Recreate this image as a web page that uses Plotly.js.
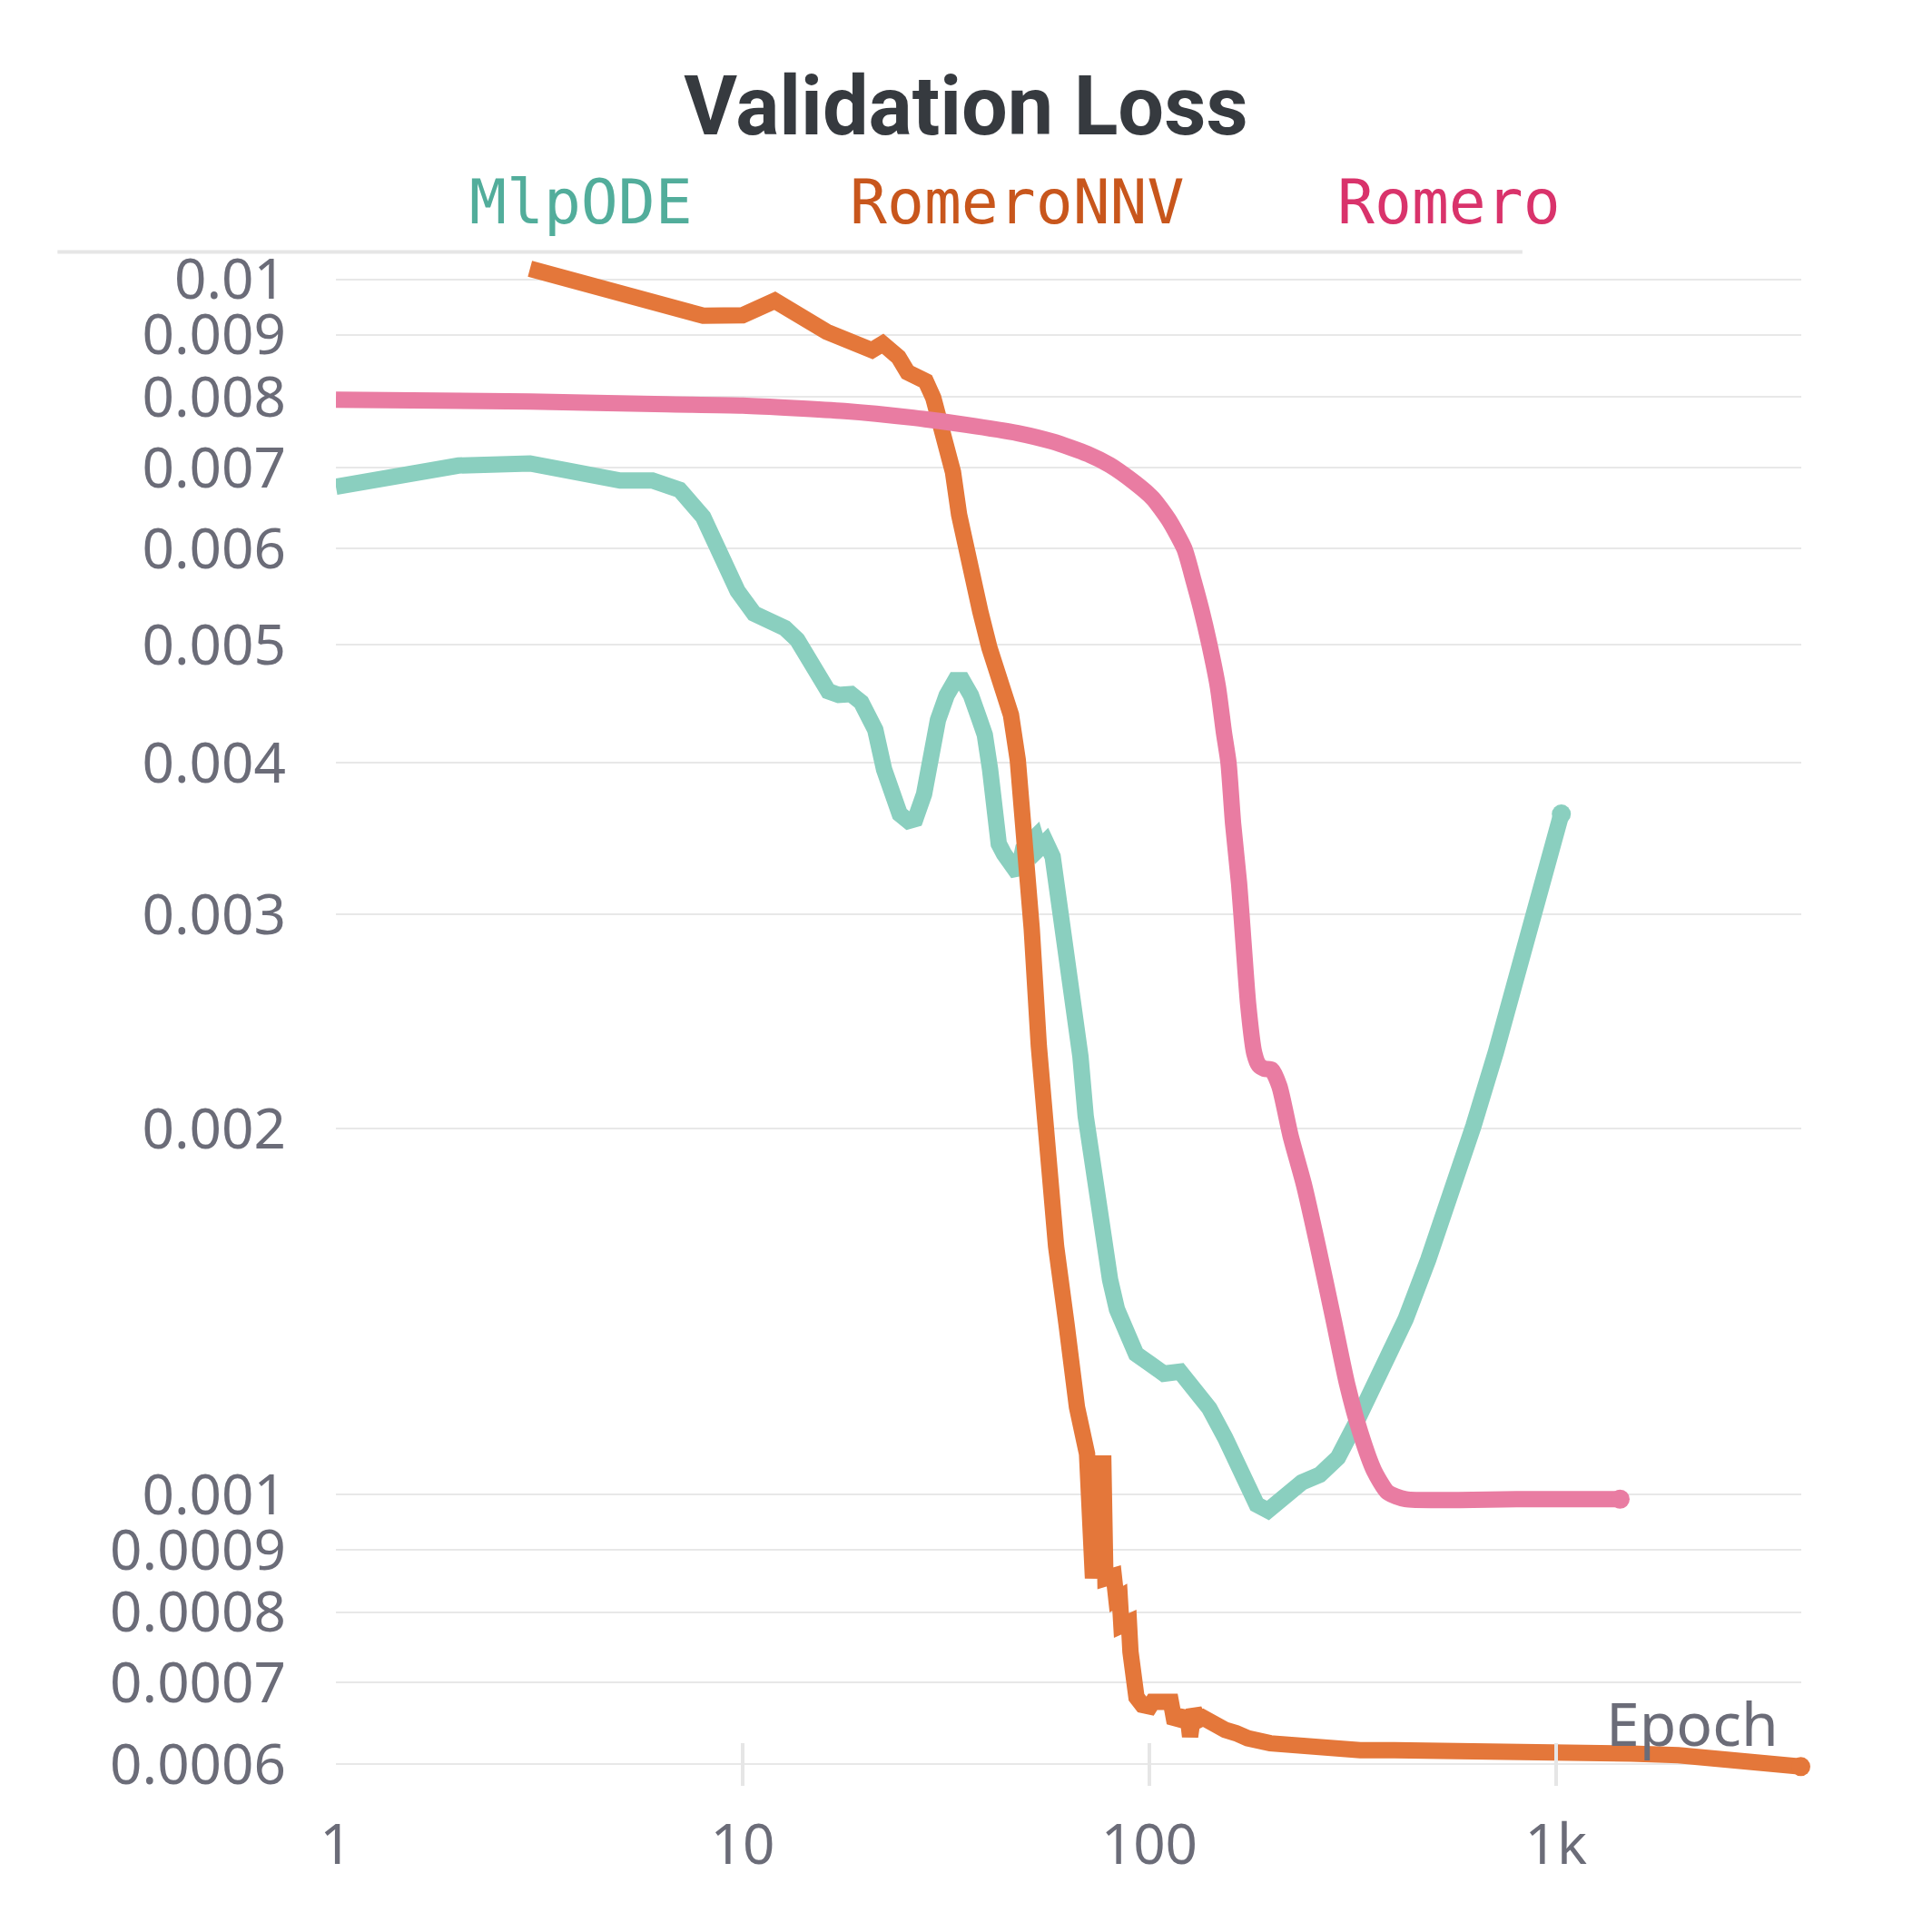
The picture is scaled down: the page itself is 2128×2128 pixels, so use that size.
<!DOCTYPE html>
<html>
<head>
<meta charset="utf-8">
<script src="https://cdn.plot.ly/plotly-3.0.1.min.js"></script>
<style>html,body{margin:0;padding:0;background:#fff;}</style>
</head>
<body>
<div id="chart" style="width:2128px;height:2128px;"></div>
<script>
// ---- data ----
const mlpEpoch = [1, 2, 3, 4, 5, 6, 7, 8, 9.72, 10.67, 11.85, 12.71, 13.63, 15.14, 16.24, 17.22, 18.47, 19.58, 20.5, 21.2, 22.28, 23.4, 24.34, 25.56, 26.59, 27.94, 29.06, 30.22, 31.76, 33.35, 34.7, 36.43, 38.28, 39.41, 40.6, 41.82, 42.65, 43.93, 46.14, 47.53, 48.96, 50.9, 52.45, 53.5, 55.64, 57.87, 59.6, 62.0, 63.86, 65.8, 67.73, 69.76, 71.86, 74.7, 76.98, 80.1, 83.27, 87.5, 92.8, 100.4, 108.6, 119, 128.5, 140.5, 153.7, 170.2, 183.7, 195.8, 214.1, 237.2, 262.7, 291, 322.3, 366.3, 426.9, 485.2, 551.3, 626.6, 711.9, 809, 896.2, 967.4, 1031];
const mlpLoss = [0.006747, 0.007025, 0.007053, 0.006926, 0.006828, 0.006828, 0.00671, 0.006372, 0.005538, 0.005307, 0.005211, 0.005162, 0.005049, 0.004739, 0.004581, 0.004549, 0.004556, 0.004485, 0.00431, 0.004257, 0.00395, 0.003734, 0.00363, 0.003582, 0.003595, 0.003769, 0.004062, 0.004338, 0.004546, 0.004676, 0.004676, 0.004546, 0.004338, 0.004217, 0.00395, 0.003595, 0.00343, 0.003366, 0.003303, 0.003243, 0.003398, 0.003462, 0.003475, 0.003398, 0.003443, 0.003348, 0.003125, 0.002924, 0.002663, 0.00247, 0.002292, 0.002048, 0.0019, 0.001714, 0.001604, 0.001502, 0.00142, 0.001355, 0.001305, 0.001281, 0.001257, 0.001262, 0.001222, 0.001177, 0.001113, 0.001032, 0.000981, 0.00097, 0.000994, 0.001023, 0.001038, 0.001072, 0.001145, 0.001246, 0.001394, 0.00156, 0.001762, 0.002009, 0.002313, 0.002714, 0.003095, 0.003398, 0.00363];

const nnvEpoch = [3, 7, 8, 10, 12, 16.1, 20.8, 22.1, 24.17, 25.45, 28.21, 29.44, 30.47, 31.8, 32.91, 34.07, 35.86, 38.41, 40.45, 42.2, 43.9, 45.7, 47.5, 49.4, 51.4, 53.5, 55.6, 59, 62.6, 66.4, 70.3, 71.5, 72.7, 75.9, 77.1, 78, 81.8, 83, 84.6, 85.4, 89.1, 89.9, 91.4, 93, 96.2, 100.3, 102, 113, 114.9, 120.9, 124, 126, 128.7, 132, 135.6, 140.7, 146.1, 153.7, 163.5, 174.6, 198.4, 225, 256, 290, 330, 400, 551, 1000, 1532, 2000, 2555, 3299, 3700, 4000];
const nnvLoss = [0.0102, 0.00946, 0.00933, 0.00934, 0.0096, 0.00905, 0.00874, 0.00885, 0.008627, 0.008383, 0.008241, 0.007986, 0.007646, 0.007262, 0.006939, 0.0064, 0.00584, 0.005329, 0.004974, 0.004751, 0.00455, 0.00438, 0.00402, 0.00353, 0.00292, 0.00234, 0.00194, 0.0016, 0.00138, 0.00118, 0.00108, 0.000976, 0.000853, 0.00106, 0.00106, 0.000853, 0.000857, 0.00082, 0.000823, 0.00078, 0.000785, 0.000742, 0.000712, 0.000681, 0.000671, 0.000669, 0.000675, 0.000675, 0.000655, 0.000652, 0.000662, 0.000632, 0.000665, 0.000652, 0.000655, 0.00065, 0.000645, 0.00064, 0.000636, 0.00063, 0.000624, 0.000621, 0.000618, 0.000617, 0.000616, 0.000616, 0.000616, 0.000614, 0.000612, 0.00061, 0.000607, 0.000603, 0.0006, 0.000597];

const romEpoch = [1, 3, 6.5, 10, 17.8, 26.3, 35.4, 47.5, 57.9, 70.5, 80, 92.1, 102.1, 111.6, 122, 128.6, 134, 140.1, 147.5, 152.6, 156.6, 160.7, 166.3, 170.6, 175.1, 181.2, 186, 192, 200, 209, 222.6, 240.3, 259.4, 283.7, 306.3, 330.7, 357, 385.5, 426.9, 800, 1438];
const romLoss = [0.00796, 0.00793, 0.00789, 0.00787, 0.00779, 0.00769, 0.00759, 0.00747, 0.00735, 0.00718, 0.00703, 0.0068, 0.0066, 0.00634, 0.006, 0.005643, 0.00536, 0.00503, 0.004617, 0.004236, 0.004001, 0.003567, 0.003181, 0.002836, 0.002528, 0.002307, 0.002255, 0.00224, 0.002236, 0.002166, 0.001972, 0.001796, 0.001604, 0.001394, 0.001234, 0.001123, 0.001046, 0.001004, 0.000991, 0.000991, 0.000991];

const seriesNames = ["MlpODE", "RomeroNNV", "Romero"];
const lineColors = ["#8acfbf", "#e4773a", "#e97ca2"];
const textColors = ["#52ad9b", "#c8561c", "#d9336b"];
const lineShapes = ["linear", "linear", "spline"];

const xTickVals = [1, 10, 100, 1000];
const xTickText = ["1", "10", "100", "1k"];
const yTickVals = [0.0006, 0.0007, 0.0008, 0.0009, 0.001, 0.002, 0.003, 0.004, 0.005, 0.006, 0.007, 0.008, 0.009, 0.01];
const yTickText = ["0.0006", "0.0007", "0.0008", "0.0009", "0.001", "0.002", "0.003", "0.004", "0.005", "0.006", "0.007", "0.008", "0.009", "0.01"];

// ---- build traces ----
const xs = [mlpEpoch, nnvEpoch, romEpoch];
const ys = [mlpLoss, nnvLoss, romLoss];
const traces = [];
[0, 1, 2].forEach(i => {
  traces.push({
    type: "scatter", mode: "lines", name: seriesNames[i],
    x: xs[i], y: ys[i],
    line: {color: lineColors[i], width: 18, shape: lineShapes[i], smoothing: 0.6},
    hoverinfo: "skip", showlegend: false
  });
  traces.push({
    type: "scatter", mode: "markers",
    x: [xs[i][xs[i].length - 1]], y: [ys[i][ys[i].length - 1]],
    marker: {color: lineColors[i], size: 21},
    hoverinfo: "skip", showlegend: false, cliponaxis: false
  });
});

const tickFont = {family: "Noto Sans", size: 62, color: "#6b6c78"};
const legendX = [0.1673, 0.4645, 0.7595];
const annotations = seriesNames.map((n, i) => ({
  text: n, xref: "paper", yref: "paper", x: legendX[i], y: 1.0356,
  xanchor: "center", yanchor: "middle", showarrow: false,
  font: {family: "DejaVu Sans Mono", size: 68, color: textColors[i]}
}));
annotations.push({
  text: "Epoch", xref: "paper", yref: "paper", x: 0.9857, y: 0.0418,
  xanchor: "right", yanchor: "middle", showarrow: false,
  font: {family: "Noto Sans", size: 66, color: "#6b6c78"}
});

const layout = {
  width: 2128, height: 2128,
  margin: {l: 370, r: 144, t: 282, b: 161, pad: 0},
  paper_bgcolor: "#ffffff", plot_bgcolor: "#ffffff",
  showlegend: false,
  title: {
    text: "<b>Validation Loss</b>",
    font: {family: "Roboto", size: 90, color: "#363a3f"},
    x: 0.5, xref: "container", xanchor: "center",
    y: 0.9453, yref: "container", yanchor: "middle"
  },
  xaxis: {
    type: "log", range: [0, 3.6032],
    tickvals: xTickVals, ticktext: xTickText,
    ticks: "inside", ticklen: 47, tickwidth: 4, tickcolor: "#e6e6e6",
    showgrid: false, zeroline: false, showline: false,
    tickfont: tickFont, ticklabelstandoff: 23
  },
  yaxis: {
    type: "log", range: [-3.23983, -1.98095],
    tickvals: yTickVals, ticktext: yTickText,
    ticks: "", showgrid: true, gridcolor: "#e8e8e8", gridwidth: 2,
    zeroline: false, showline: false,
    tickfont: tickFont, ticklabelstandoff: 54
  },
  annotations: annotations,
  shapes: [{
    type: "line", xref: "paper", yref: "paper",
    x0: -0.19, x1: 0.8097, y0: 1.0027, y1: 1.0027,
    line: {color: "#e6e6e6", width: 4}
  }]
};

Plotly.newPlot("chart", traces, layout, {displayModeBar: false, staticPlot: true});
</script>
</body>
</html>
